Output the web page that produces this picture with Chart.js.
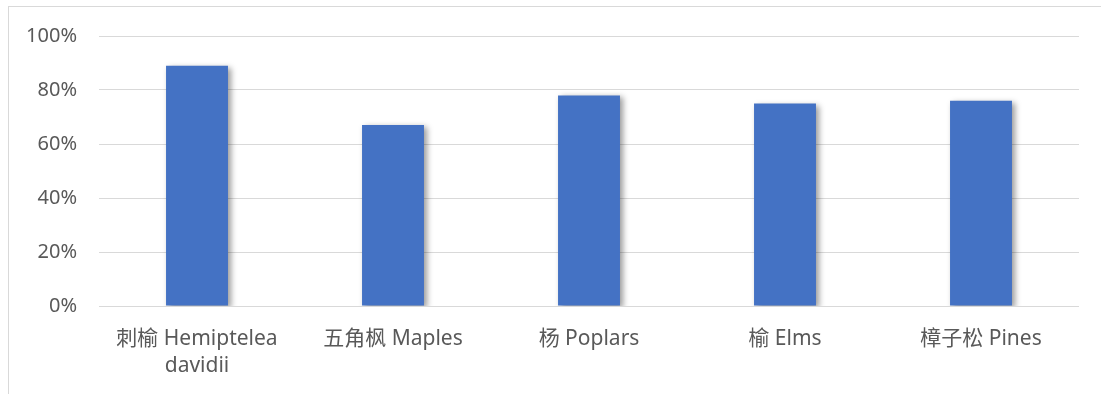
<!DOCTYPE html>
<html>
<head>
<meta charset="utf-8">
<script src="https://cdn.jsdelivr.net/npm/chart.js@4/dist/chart.umd.min.js"></script>
<style>
  body { margin: 0; background: #fff; }
  #frame { position: absolute; left: 8px; top: 6px; width: 1100px; height: 400px;
           border-left: 1px solid #d9d9d9; border-top: 1px solid #d9d9d9; }
  #c { position: absolute; left: 0; top: 0; }
</style>
</head>
<body>
<div id="frame"></div>
<canvas id="c" width="1101" height="394"></canvas>
<script>
var trees = [['刺榆 Hemiptelea', 'davidii'], '五角枫 Maples', '杨 Poplars', '榆 Elms', '樟子松 Pines'];
var share = [89, 67, 78, 75, 76];

// soft shadow behind the bars, like the office chart
var barShadow = {
  id: 'barShadow',
  beforeDatasetsDraw: function(chart) {
    var ctx = chart.ctx;
    ctx.save();
    ctx.shadowColor = 'rgba(0, 0, 0, 0.4)';
    ctx.shadowBlur = 6;
    ctx.shadowOffsetX = 3;
    ctx.shadowOffsetY = 2;
  },
  afterDatasetsDraw: function(chart) {
    chart.ctx.restore();
  }
};

var family = '"Noto Sans", "Noto Sans CJK SC", sans-serif';

new Chart(document.getElementById('c').getContext('2d'), {
  type: 'bar',
  data: {
    labels: trees,
    datasets: [{
      data: share,
      backgroundColor: '#4472C4',
      borderWidth: 0,
      categoryPercentage: 1,
      barPercentage: 0.316
    }]
  },
  options: {
    responsive: false,
    animation: false,
    layout: { padding: { top: 36, right: 22, left: 0, bottom: 0 } },
    plugins: { legend: { display: false }, tooltip: { enabled: false } },
    scales: {
      y: {
        min: 0, max: 100,
        ticks: { stepSize: 20, padding: 22, color: '#595959',
                 font: { family: family, size: 20 },
                 callback: function(v) { return v + '%'; } },
        grid: { color: '#d9d9d9', lineWidth: 1, drawTicks: false },
        border: { display: false },
        afterFit: function(s) { s.width = 99; }
      },
      x: {
        ticks: { padding: 19, color: '#595959', maxRotation: 0,
                 font: { family: family, size: 21, lineHeight: 1.3 } },
        grid: { display: false, drawTicks: false },
        border: { display: false },
        afterFit: function(s) { s.height = 88; }
      }
    }
  },
  plugins: [barShadow]
});
</script>
</body>
</html>
